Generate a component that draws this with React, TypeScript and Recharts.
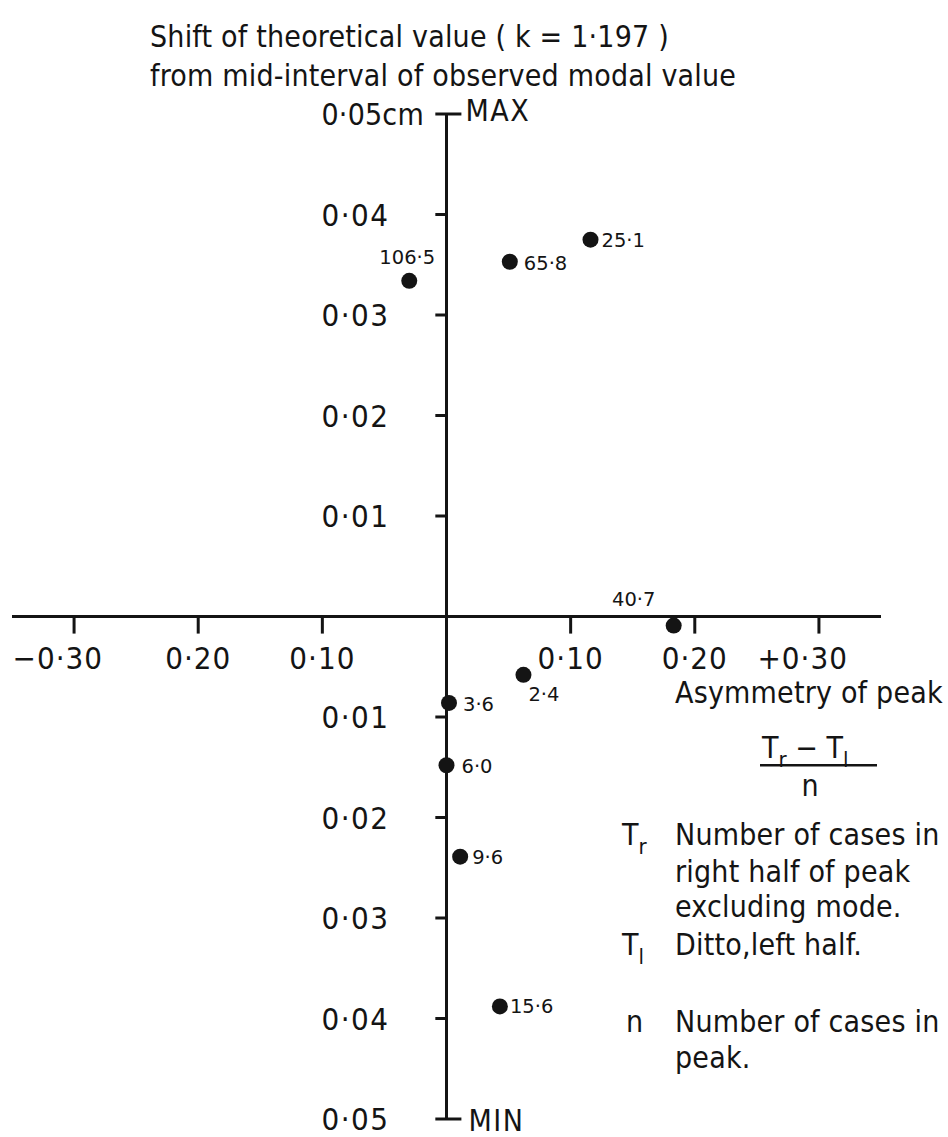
import React from 'react';
import { ScatterChart, Scatter, XAxis, YAxis, ReferenceLine, ReferenceDot } from 'recharts';

// asymmetry of peak (Tr - Tl)/n, one entry per peak
const asymmetry = [-0.030, 0.051, 0.116, 0.183, 0.062, 0.002, 0.000, 0.011, 0.043];
// shift of theoretical value from mid-interval of observed modal value (cm)
const shift = [0.0334, 0.0353, 0.0375, -0.0009, -0.0058, -0.0086, -0.0148, -0.0239, -0.0388];
// number of cases in peak, written beside each dot
const caseLabels = ['106·5', '65·8', '25·1', '40·7', '2·4', '3·6', '6·0', '9·6', '15·6'];

const xTickValues = [-0.3, -0.2, -0.1, 0.1, 0.2, 0.3];
const xTickLabels = ['−0·30', '0·20', '0·10', '0·10', '0·20', '+0·30'];
const yTickValues = [0.05, 0.04, 0.03, 0.02, 0.01, -0.01, -0.02, -0.03, -0.04, -0.05];
const yTickLabels = ['0·05cm', '0·04', '0·03', '0·02', '0·01', '0·01', '0·02', '0·03', '0·04', '0·05'];

const ink = '#141414';
const bigFont = '"DejaVu Sans Condensed", "Liberation Sans Narrow", "DejaVu Sans", sans-serif';
const smallFont = '"DejaVu Sans", sans-serif';

// where each count label sits relative to its dot
const labelSide: Record<string, [number, number, 'start' | 'middle']> = {
  '106·5': [-2, -17, 'middle'],
  '65·8': [14, 8, 'start'],
  '25·1': [11, 7, 'start'],
  '40·7': [-40, -20, 'middle'],
  '2·4': [5, 26, 'start'],
  '3·6': [14, 8, 'start'],
  '6·0': [15, 8, 'start'],
  '9·6': [12, 7, 'start'],
  '15·6': [10, 7, 'start'],
};

const points = asymmetry.map((x, i) => ({ x, y: shift[i], n: caseLabels[i] }));

function Dot(props: any) {
  const { cx, cy, payload } = props;
  const [dx, dy, anchor] = labelSide[payload.n];
  return (
    <g>
      <circle cx={cx} cy={cy} r={8} fill={ink} />
      <text x={cx + dx} y={cy + dy} textAnchor={anchor} fontFamily={smallFont} fontSize={19.5} fill={ink}>
        {payload.n}
      </text>
    </g>
  );
}

export default function App() {
  const W = 948;
  const H = 1137;
  return (
    <div style={{ position: 'absolute', left: 0, top: 0, width: W, height: H, background: '#fff' }}>
      <ScatterChart width={W} height={H} margin={{ top: 114, right: 67, bottom: 18, left: 12 }}>
        <XAxis type="number" dataKey="x" domain={[-0.35, 0.35]} hide />
        <YAxis type="number" dataKey="y" domain={[-0.05, 0.05]} hide />
        <ReferenceLine y={0} stroke={ink} strokeWidth={3} />
        <ReferenceLine x={0} stroke={ink} strokeWidth={3} />
        {xTickValues.map((t, i) => (
          <ReferenceLine
            key={'xt' + i}
            segment={[{ x: t, y: 0 }, { x: t, y: -0.0017 }]}
            stroke={ink}
            strokeWidth={3}
          />
        ))}
        {xTickValues.map((t, i) => {
          const lab = xTickLabels[i];
          const signed = lab.startsWith('−') || lab.startsWith('+');
          return (
            <ReferenceDot
              key={'xl' + i}
              x={t}
              y={0}
              r={0}
              shape={(p: any) => (
                <text
                  x={signed ? p.cx + 29 : p.cx}
                  y={p.cy + 52}
                  textAnchor={signed ? 'end' : 'middle'}
                  fontFamily={bigFont}
                  fontSize={31}
                  letterSpacing={1}
                  fill={ink}
                >
                  {lab}
                </text>
              )}
            />
          );
        })}
        {yTickValues.map((t, i) => {
          const end = Math.abs(t) === 0.05;
          return (
            <ReferenceLine
              key={'yt' + i}
              segment={[{ x: -0.009, y: t }, { x: end ? 0.012 : 0, y: t }]}
              stroke={ink}
              strokeWidth={3}
            />
          );
        })}
        {yTickValues.map((t, i) => {
          const lab = yTickLabels[i];
          const unit = lab.endsWith('cm');
          return (
            <ReferenceDot
              key={'yl' + i}
              x={0}
              y={t}
              r={0}
              shape={(p: any) => (
                <text
                  x={p.cx - 125}
                  y={p.cy + 11}
                  textAnchor="start"
                  fontFamily={bigFont}
                  fontSize={unit ? 30 : 31}
                  letterSpacing={unit ? 0.2 : 1.5}
                  fill={ink}
                >
                  {lab}
                </text>
              )}
            />
          );
        })}
        <ReferenceDot
          x={0}
          y={0.05}
          r={0}
          shape={(p: any) => (
            <text x={p.cx + 19} y={p.cy + 7} fontFamily={bigFont} fontSize={30} letterSpacing={1.5} fill={ink}>
              MAX
            </text>
          )}
        />
        <ReferenceDot
          x={0}
          y={-0.05}
          r={0}
          shape={(p: any) => (
            <text x={p.cx + 22} y={p.cy + 12} fontFamily={bigFont} fontSize={30} letterSpacing={1.5} fill={ink}>
              MIN
            </text>
          )}
        />
        <Scatter data={points} shape={Dot} isAnimationActive={false} />
      </ScatterChart>
      <svg
        width={W}
        height={H}
        style={{ position: 'absolute', left: 0, top: 0, pointerEvents: 'none' }}
        fontFamily={bigFont}
        fontSize={30}
        fill={ink}
      >
        <text x={150} y={47} letterSpacing={0.2}>Shift of theoretical value ( k = 1·197 )</text>
        <text x={150} y={86} letterSpacing={0.2}>from mid-interval of observed modal value</text>

        <text x={675} y={703} letterSpacing={0.2}>Asymmetry of peak</text>
        <text x={762} y={758}>
          T<tspan fontSize={22} dy={9}>r</tspan>
          <tspan dy={-9}> − T</tspan>
          <tspan fontSize={22} dy={9}>l</tspan>
        </text>
        <rect x={760} y={764} width={117} height={2.5} fill={ink} />
        <text x={810} y={796} textAnchor="middle">n</text>

        <text x={622} y={845}>
          T<tspan fontSize={22} dy={9}>r</tspan>
        </text>
        <text x={675} y={845} letterSpacing={0.2}>Number of cases in</text>
        <text x={675} y={882} letterSpacing={0.2}>right half of peak</text>
        <text x={675} y={917} letterSpacing={0.2}>excluding mode.</text>
        <text x={622} y={955}>
          T<tspan fontSize={22} dy={9}>l</tspan>
        </text>
        <text x={675} y={955} letterSpacing={0.2}>Ditto,left half.</text>
        <text x={626} y={1032}>n</text>
        <text x={675} y={1032} letterSpacing={0.2}>Number of cases in</text>
        <text x={675} y={1068} letterSpacing={0.2}>peak.</text>
      </svg>
    </div>
  );
}
